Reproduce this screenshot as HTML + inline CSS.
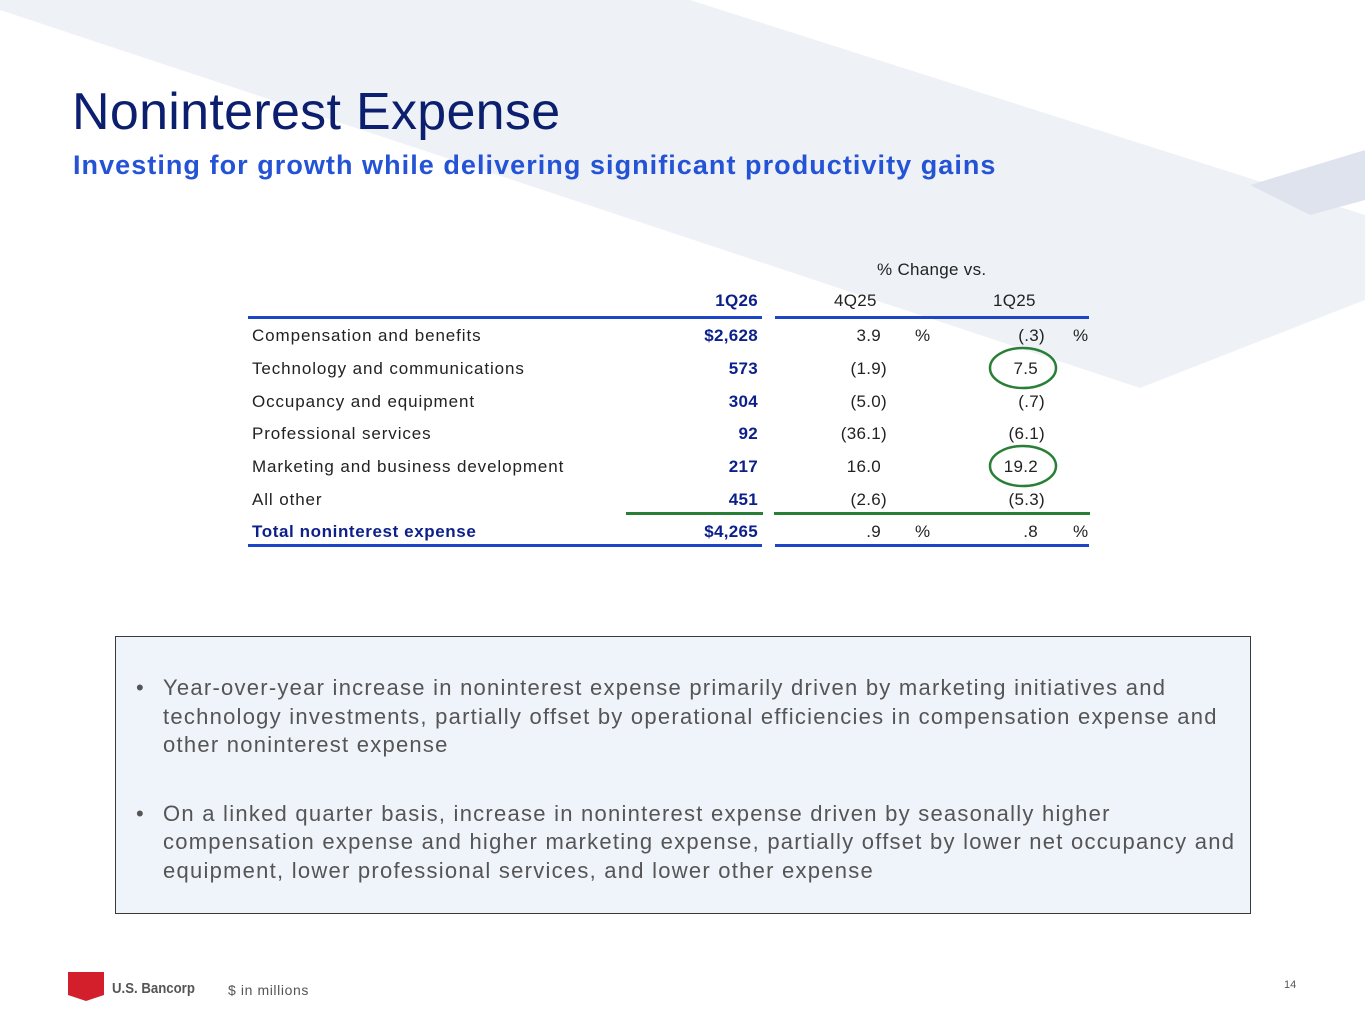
<!DOCTYPE html>
<html><head><meta charset="utf-8"><style>
*{margin:0;padding:0;box-sizing:border-box}
body{width:1365px;height:1024px;position:relative;background:#fff;font-family:"Liberation Sans",sans-serif;overflow:hidden}
.a{position:absolute;white-space:nowrap}
.t{font-size:17px;color:#222;line-height:20px;letter-spacing:0.9px}
.r{text-align:right}
.b{color:#0c1f8a;font-weight:bold;letter-spacing:0.3px}
.ln{position:absolute;height:3px}
</style></head><body>
<svg class="a" style="left:0;top:0" width="1365" height="1024">
<polygon points="0,0 690,0 1365,215 1365,300 1140,388 0,10" fill="#eef2f7"/>
<polygon points="1250,185 1365,150 1365,200 1310,215" fill="#dfe3ee"/>
<ellipse cx="1023" cy="368" rx="33" ry="20" fill="none" stroke="#2a7f37" stroke-width="2.5"/>
<ellipse cx="1023" cy="466" rx="33" ry="20" fill="none" stroke="#2a7f37" stroke-width="2.5"/>
<polygon points="68,972 104,972 104,995 86,1001 68,995" fill="#d21f2b"/>
</svg>
<div class="a" style="left:72px;top:82px;font-size:52px;color:#0c1f6e;letter-spacing:0.3px">Noninterest Expense</div>
<div class="a" style="left:73px;top:150px;font-size:27px;color:#2453d6;font-weight:bold;letter-spacing:1.05px">Investing for growth while delivering significant productivity gains</div>

<div class="a t" style="left:877px;top:260px;letter-spacing:0.3px">% Change vs.</div>
<div class="a t b r" style="left:658px;top:291px;width:100px">1Q26</div>
<div class="a t" style="left:834px;top:291px;letter-spacing:0.3px">4Q25</div>
<div class="a t" style="left:993px;top:291px;letter-spacing:0.3px">1Q25</div>
<div class="ln" style="left:248px;top:316px;width:514px;background:#1d45c8"></div>
<div class="ln" style="left:775px;top:316px;width:314px;background:#1d45c8"></div>

<div class="a t" style="left:252px;top:326px">Compensation and benefits</div>
<div class="a t" style="left:252px;top:359px">Technology and communications</div>
<div class="a t" style="left:252px;top:392px">Occupancy and equipment</div>
<div class="a t" style="left:252px;top:424px">Professional services</div>
<div class="a t" style="left:252px;top:457px">Marketing and business development</div>
<div class="a t" style="left:252px;top:490px">All other</div>
<div class="a t b" style="left:252px;top:522px;letter-spacing:0.6px">Total noninterest expense</div>

<div class="a t b r" style="left:608px;top:326px;width:150px">$2,628</div>
<div class="a t b r" style="left:608px;top:359px;width:150px">573</div>
<div class="a t b r" style="left:608px;top:392px;width:150px">304</div>
<div class="a t b r" style="left:608px;top:424px;width:150px">92</div>
<div class="a t b r" style="left:608px;top:457px;width:150px">217</div>
<div class="a t b r" style="left:608px;top:490px;width:150px">451</div>
<div class="a t b r" style="left:608px;top:522px;width:150px">$4,265</div>

<div class="a t r" style="left:781px;top:326px;width:100px;letter-spacing:0.3px">3.9</div>
<div class="a t r" style="left:787px;top:359px;width:100px;letter-spacing:0.3px">(1.9)</div>
<div class="a t r" style="left:787px;top:392px;width:100px;letter-spacing:0.3px">(5.0)</div>
<div class="a t r" style="left:787px;top:424px;width:100px;letter-spacing:0.3px">(36.1)</div>
<div class="a t r" style="left:781px;top:457px;width:100px;letter-spacing:0.3px">16.0</div>
<div class="a t r" style="left:787px;top:490px;width:100px;letter-spacing:0.3px">(2.6)</div>
<div class="a t r" style="left:781px;top:522px;width:100px;letter-spacing:0.3px">.9</div>
<div class="a t" style="left:915px;top:326px">%</div>
<div class="a t" style="left:915px;top:522px">%</div>

<div class="a t r" style="left:945px;top:326px;width:100px;letter-spacing:0.3px">(.3)</div>
<div class="a t r" style="left:938px;top:359px;width:100px;letter-spacing:0.3px">7.5</div>
<div class="a t r" style="left:945px;top:392px;width:100px;letter-spacing:0.3px">(.7)</div>
<div class="a t r" style="left:945px;top:424px;width:100px;letter-spacing:0.3px">(6.1)</div>
<div class="a t r" style="left:938px;top:457px;width:100px;letter-spacing:0.3px">19.2</div>
<div class="a t r" style="left:945px;top:490px;width:100px;letter-spacing:0.3px">(5.3)</div>
<div class="a t r" style="left:938px;top:522px;width:100px;letter-spacing:0.3px">.8</div>
<div class="a t" style="left:1073px;top:326px">%</div>
<div class="a t" style="left:1073px;top:522px">%</div>

<div class="ln" style="left:626px;top:512px;width:137px;background:#2a7f37"></div>
<div class="ln" style="left:774px;top:512px;width:316px;background:#2a7f37"></div>
<div class="ln" style="left:248px;top:544px;width:514px;background:#1d45c8"></div>
<div class="ln" style="left:775px;top:544px;width:314px;background:#1d45c8"></div>

<div class="a" style="left:115px;top:636px;width:1136px;height:278px;background:#eff3fa;border:1.5px solid #3a3a3a"></div>
<div class="a" style="left:136px;top:674px;font-size:22px;color:#555;line-height:28.5px;letter-spacing:1.25px">
<div style="position:relative;padding-left:27px">
<span style="position:absolute;left:0">•</span>Year-over-year increase in noninterest expense primarily driven by marketing initiatives and<br>technology investments, partially offset by operational efficiencies in compensation expense and<br>other noninterest expense</div>
<div style="position:relative;padding-left:27px;margin-top:40px">
<span style="position:absolute;left:0">•</span>On a linked quarter basis, increase in noninterest expense driven by seasonally higher<br>compensation expense and higher marketing expense, partially offset by lower net occupancy and<br>equipment, lower professional services, and lower other expense</div>
</div>

<div class="a" style="left:112px;top:980px;font-size:15px;color:#555;font-weight:bold;transform:scaleX(0.88);transform-origin:left">U.S. Bancorp</div>
<div class="a" style="left:228px;top:982px;font-size:14px;color:#555;letter-spacing:0.6px">$ in millions</div>
<div class="a" style="left:1284px;top:979px;font-size:11px;color:#555">14</div>
</body></html>
